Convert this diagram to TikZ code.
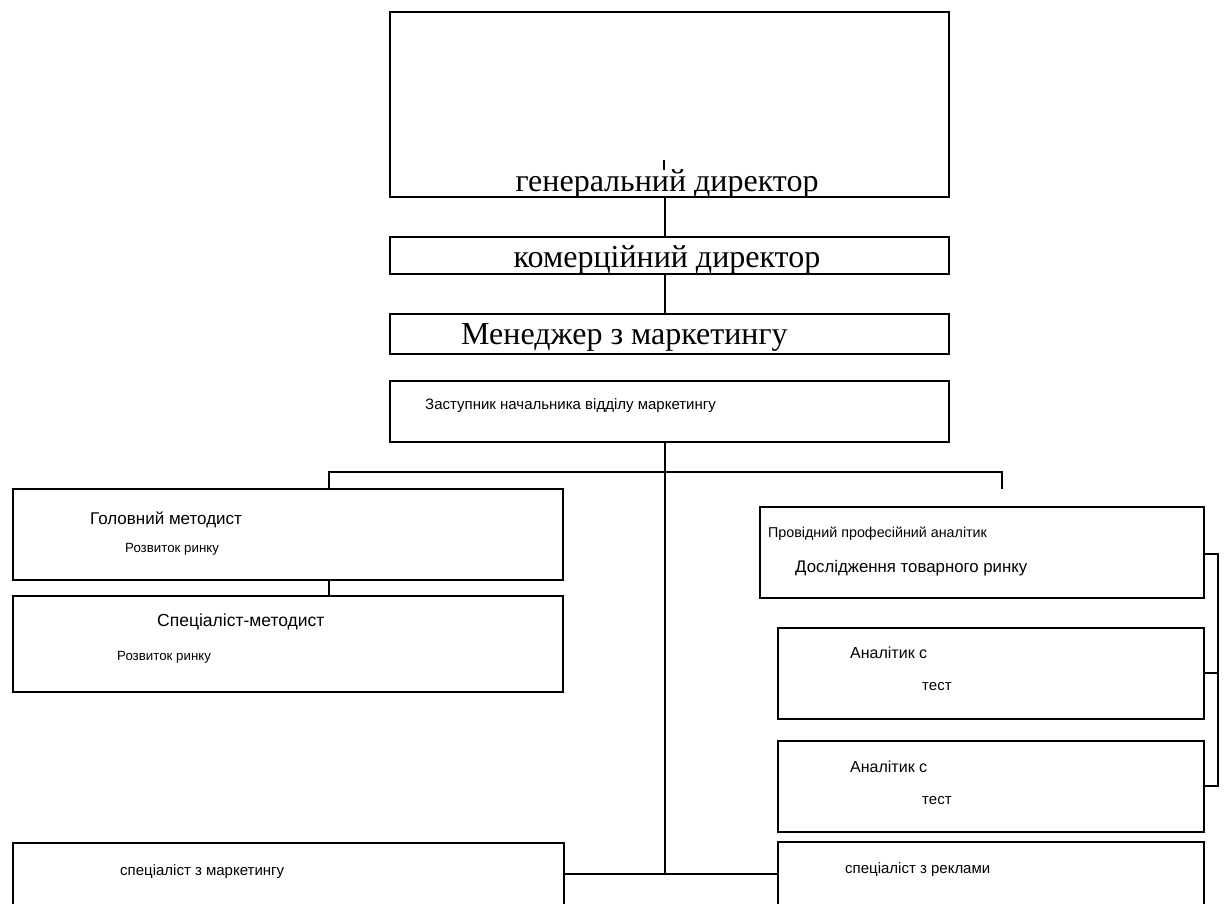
\documentclass[tikz,border=0pt]{standalone}
\usepackage{fontspec}
\setmainfont{Liberation Serif}
\setsansfont{Liberation Sans}
\usetikzlibrary{positioning}

\tikzset{
  post/.style={draw,rectangle,anchor=north west,inner sep=0pt,line width=1.5pt},
  bigpost/.style={post,line width=2pt},
  big/.style={anchor=base,inner sep=0pt,font=\fontsize{32}{36}\selectfont},
  small/.style={anchor=base west,inner sep=0pt,font=\sffamily\fontsize{15}{18}\selectfont},
  link/.style={line width=2pt}
}

\begin{document}
\begin{tikzpicture}[x=1pt,y=-1pt]
  \useasboundingbox (0,0) rectangle (1228,904);
  \clip (0,0) rectangle (1228,904);
  % upper chain
  \node[bigpost,minimum width=559pt,minimum height=185pt] (gd) at (389,11) {};
  \node[bigpost,minimum width=559pt,minimum height=37pt] (kd) at (389,236) {};
  \node[bigpost,minimum width=559pt,minimum height=40pt] (md) at (389,313) {};
  \node[post,minimum width=559pt,minimum height=61pt] (zn) at (389,380) {};
  \node[big] (gdt) at (667,192) {генеральний директор};
  \node[big] (kdt) at (667,267) {комерційний директор};
  \node[big,anchor=base west] (mdt) at (461,344) {Менеджер з маркетингу};
  \node[small] (znt) at (425,409) {Заступник начальника відділу маркетингу};
  \coordinate (tick) at (664,160);
  \draw[line width=1.2pt] (tick) -- ++(0,10);
  % left column
  \node[post,minimum width=550pt,minimum height=91pt] (gm) at (12,488) {};
  \node[post,minimum width=550pt,minimum height=96pt] (sm) at (12,595) {};
  \node[small,font=\sffamily\fontsize{17}{20}\selectfont] (gmt) at (90,524) {Головний методист};
  \node[small,font=\sffamily\fontsize{13.3}{16}\selectfont] (gmr) at (125,552) {Розвиток ринку};
  \node[small,font=\sffamily\fontsize{17.5}{20}\selectfont] (smt) at (157,626) {Спеціаліст-методист};
  \node[small,font=\sffamily\fontsize{13.3}{16}\selectfont] (smr) at (117,660) {Розвиток ринку};
  % right column
  \node[post,minimum width=444pt,minimum height=91pt] (pa) at (759,506) {};
  \node[post,minimum width=426pt,minimum height=91pt] (an1) at (777,627) {};
  \node[post,minimum width=426pt,minimum height=91pt] (an2) at (777,740) {};
  \node[small,font=\sffamily\fontsize{14.3}{16}\selectfont] (pat) at (768,537) {Провідний професійний аналітик};
  \node[small,font=\sffamily\fontsize{16.8}{20}\selectfont] (par) at (795,572) {Дослідження товарного ринку};
  \node[small,font=\sffamily\fontsize{16}{18}\selectfont] (an1t) at (850,658) {Аналітик с};
  \node[small] (an1r) at (922,690) {тест};
  \node[small,font=\sffamily\fontsize{16}{18}\selectfont] (an2t) at (850,772) {Аналітик с};
  \node[small] (an2r) at (922,804) {тест};
  % bottom row
  \node[post,minimum width=551pt,minimum height=80pt] (smk) at (12,842) {};
  \node[post,minimum width=426pt,minimum height=80pt] (sr) at (777,841) {};
  \node[small] (smkt) at (120,875) {спеціаліст з маркетингу};
  \node[small] (srt) at (845,873) {спеціаліст з реклами};
  % branches
  \coordinate (jl) at (329,472);
  \coordinate (jr) at (1002,489);
  \coordinate (jb) at (665,874);
  \coordinate (br) at (1218,554);
  \draw[link] (gd.south -| jb) -- (kd.north -| jb);
  \draw[link] (kd.south -| jb) -- (md.north -| jb);
  \draw[link] (gm.north -| jl) -- (jl) -- (jl -| jr) -- (jr);
  \draw[link] (gm.south -| jl) -- (sm.north -| jl);
  \draw[link] (zn.south -| jb) -- (jb);
  \draw[link] (smk.east |- jb) -- (sr.west |- jb);
  \draw[link] (pa.east |- br) -- (br) -- (br |- an2.east) -- (an2.east);
  \draw[link] (an1.east) -- (an1.east -| br);
\end{tikzpicture}
\end{document}
